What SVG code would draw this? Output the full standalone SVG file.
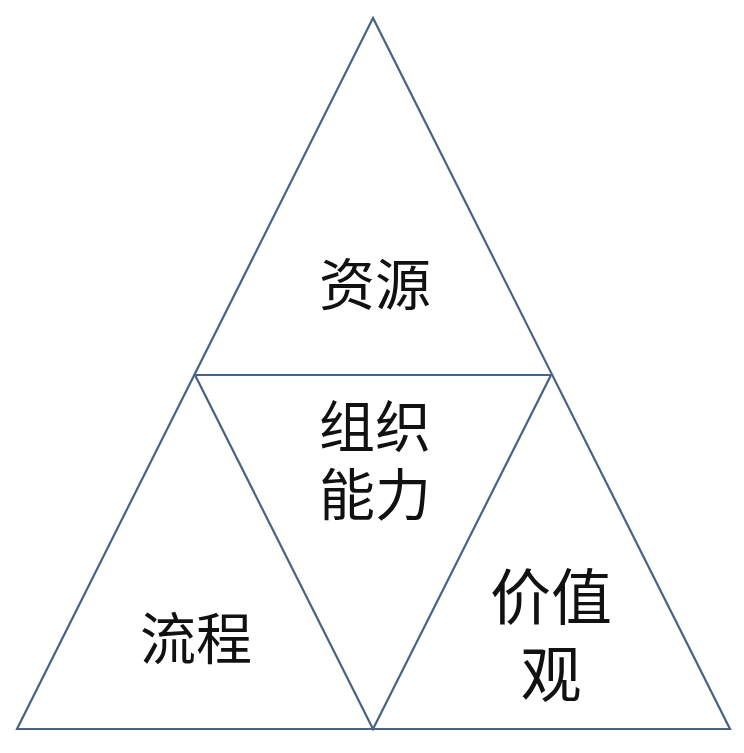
<svg xmlns="http://www.w3.org/2000/svg" width="744" height="753" viewBox="0 0 744 753">
<style>
.edge{fill:none;stroke:#4a6286;stroke-width:2.2;stroke-linejoin:miter}
.lbl{font-family:"Noto Sans CJK SC","Noto Sans",sans-serif;fill:#111;text-anchor:middle}
</style>
<rect width="744" height="753" fill="#fff"/>
<g id="connectors">
<polygon class="edge" points="373,18 17,729 730,729"/>
<polygon class="edge" points="195,375 551,375 373,729"/>
</g>
<g id="node-resources"><text class="lbl" x="375" y="305" font-size="56">资源</text></g>
<g id="node-capability"><text class="lbl" font-size="56"><tspan x="375" y="447">组织</tspan><tspan x="375" y="515">能力</tspan></text></g>
<g id="node-process"><text class="lbl" x="196" y="659" font-size="56">流程</text></g>
<g id="node-values"><text class="lbl" font-size="61"><tspan x="551" y="620">价值</tspan><tspan x="551" y="697">观</tspan></text></g>
</svg>
